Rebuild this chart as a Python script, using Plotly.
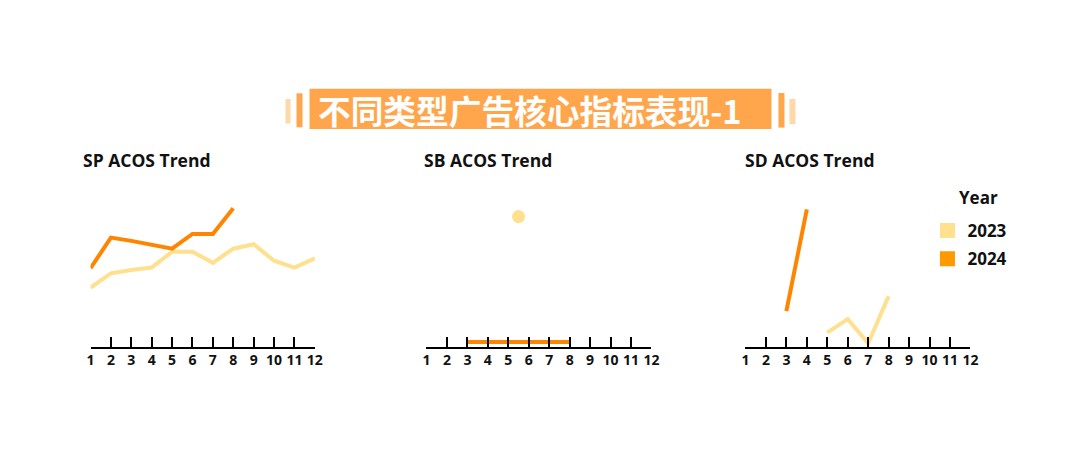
import plotly.graph_objects as go

# ---------------- data ----------------
months = [1, 2, 3, 4, 5, 6, 7, 8, 9, 10, 11, 12]
tick_labels = [str(m) for m in months]

sp_2023_x = [1, 2, 3, 4, 5, 6, 7, 8, 9, 10, 11, 12]
sp_2023_y = [19.6, 24.4, 25.5, 26.3, 31.6, 31.6, 27.9, 32.6, 34.1, 28.6, 26.3, 29.4]
sp_2024_x = [1, 2, 3, 4, 5, 6, 7, 8]
sp_2024_y = [26.1, 36.3, 35.2, 33.8, 32.6, 37.5, 37.5, 46.1]

sb_2023_x = [5.5]
sb_2023_y = [43.3]
sb_2024_x = [3, 4, 5, 6, 7, 8]
sb_2024_y = [1.5, 1.5, 1.5, 1.5, 1.5, 1.5]

sd_2023_x = [5, 6, 7, 8]
sd_2023_y = [4.6, 9.1, 1.1, 16.8]
sd_2024_x = [3, 4]
sd_2024_y = [11.8, 45.7]

panel_titles = ["SP ACOS Trend", "SB ACOS Trend", "SD ACOS Trend"]
years = ["2023", "2024"]
legend_title = "Year"
main_title = "不同类型广告核心指标表现-1"

# ---------------- style ----------------
OFF = 8
W, H = 1080 - 2 * OFF, 464 - 2 * OFF
SX_A, SX_S = 3.56, 0.9888   # horizontal calibration of the capture
C23 = "#FFE08E"
C24 = "#FF8500"
C24_LEG = "#FF9900"
FONT = "Open Sans"

def px(xp):
    return ((xp - SX_A) / SX_S - OFF) / W

def py(yp):
    return 1 - (yp - OFF) / H

y_bottom, y_top = 346.5, 196.5
panels_px = [(90, 314.3), (426, 651), (745, 970)]

fig = go.Figure()

series = [
    (sp_2023_x, sp_2023_y, sp_2024_x, sp_2024_y),
    (sb_2023_x, sb_2023_y, sb_2024_x, sb_2024_y),
    (sd_2023_x, sd_2023_y, sd_2024_x, sd_2024_y),
]

for i, (x23, y23, x24, y24) in enumerate(series):
    xa = "x" if i == 0 else f"x{i+1}"
    ya = "y" if i == 0 else f"y{i+1}"
    mode23 = "markers" if len(x23) == 1 else "lines"
    fig.add_trace(go.Scatter(
        x=x23, y=y23, mode=mode23, xaxis=xa, yaxis=ya,
        line=dict(color=C23, width=4), marker=dict(color=C23, size=13),
        showlegend=False, hoverinfo="skip"))
    fig.add_trace(go.Scatter(
        x=x24, y=y24, mode="lines", xaxis=xa, yaxis=ya,
        line=dict(color=C24, width=4),
        showlegend=False, hoverinfo="skip"))

for yr, col in zip(years, [C23, C24_LEG]):
    fig.add_trace(go.Scatter(
        x=[None], y=[None], mode="markers", name=f"<b>{yr}</b>", legendgroup=yr,
        marker=dict(symbol="square", size=15, color=col),
        xaxis="x3", yaxis="y3"))

layout = dict(
    width=W, height=H,
    margin=dict(l=0, r=0, t=0, b=0),
    paper_bgcolor="white", plot_bgcolor="white",
    font=dict(family=FONT, color="#111111"),
    showlegend=True,
    legend=dict(
        x=px(927), y=py(213), xanchor="left", yanchor="top",
        font=dict(size=17, family=FONT),
        traceorder="grouped", tracegroupgap=3, itemwidth=30,
        bgcolor="rgba(0,0,0,0)"),
)

for i, (x0, x1) in enumerate(panels_px):
    suffix = "" if i == 0 else str(i + 1)
    layout[f"xaxis{suffix}"] = dict(
        domain=[px(x0), px(x1)], range=[1, 12], anchor=f"y{suffix}",
        tickmode="array", tickvals=months, ticktext=[f"<b>{t}</b>" for t in tick_labels],
        ticks="inside", ticklen=10, tickwidth=2, tickcolor="black",
        showline=True, linecolor="black", linewidth=2,
        showgrid=False, zeroline=False, fixedrange=True,
        tickfont=dict(size=14, family=FONT, color="#111111"))
    layout[f"yaxis{suffix}"] = dict(
        domain=[py(y_bottom), py(y_top)], range=[0, 50], anchor=f"x{suffix}",
        visible=False, fixedrange=True)

fig.update_layout(**layout)

shapes = [
    dict(type="rect", xref="paper", yref="paper", x0=px(309), x1=px(771), y0=py(129), y1=py(88.7),
         fillcolor="#FFA64D", line=dict(width=0), layer="below"),
    dict(type="rect", xref="paper", yref="paper", x0=px(296), x1=px(302), y0=py(127.3), y1=py(93.3),
         fillcolor="#FFA64D", line=dict(width=0)),
    dict(type="rect", xref="paper", yref="paper", x0=px(285), x1=px(290), y0=py(123.5), y1=py(99),
         fillcolor="#FFD8A8", line=dict(width=0)),
    dict(type="rect", xref="paper", yref="paper", x0=px(778), x1=px(784), y0=py(127.6), y1=py(93),
         fillcolor="#FFA64D", line=dict(width=0)),
    dict(type="rect", xref="paper", yref="paper", x0=px(789), x1=px(795), y0=py(124), y1=py(99),
         fillcolor="#FFD8A8", line=dict(width=0)),
]
fig.update_layout(shapes=shapes)

annotations = [
    dict(text=f"<b>{main_title}</b>", xref="paper", yref="paper", x=px(530), y=py(110),
         xanchor="center", yanchor="middle", showarrow=False,
         font=dict(size=32.7, family="Noto Sans CJK SC", color="white")),
    dict(text=f"<b>{legend_title}</b>", xref="paper", yref="paper", x=px(978), y=py(198),
         xanchor="center", yanchor="middle", showarrow=False,
         font=dict(size=17, family=FONT, color="#111111")),
]
for t, xl in zip(panel_titles, [80, 422, 743]):
    annotations.append(dict(text=f"<b>{t}</b>", xref="paper", yref="paper", x=px(xl), y=py(160),
                            xanchor="left", yanchor="middle", showarrow=False,
                            font=dict(size=17.5, family=FONT, color="#111111")))
fig.update_layout(annotations=annotations)

fig.write_html("out.html")
